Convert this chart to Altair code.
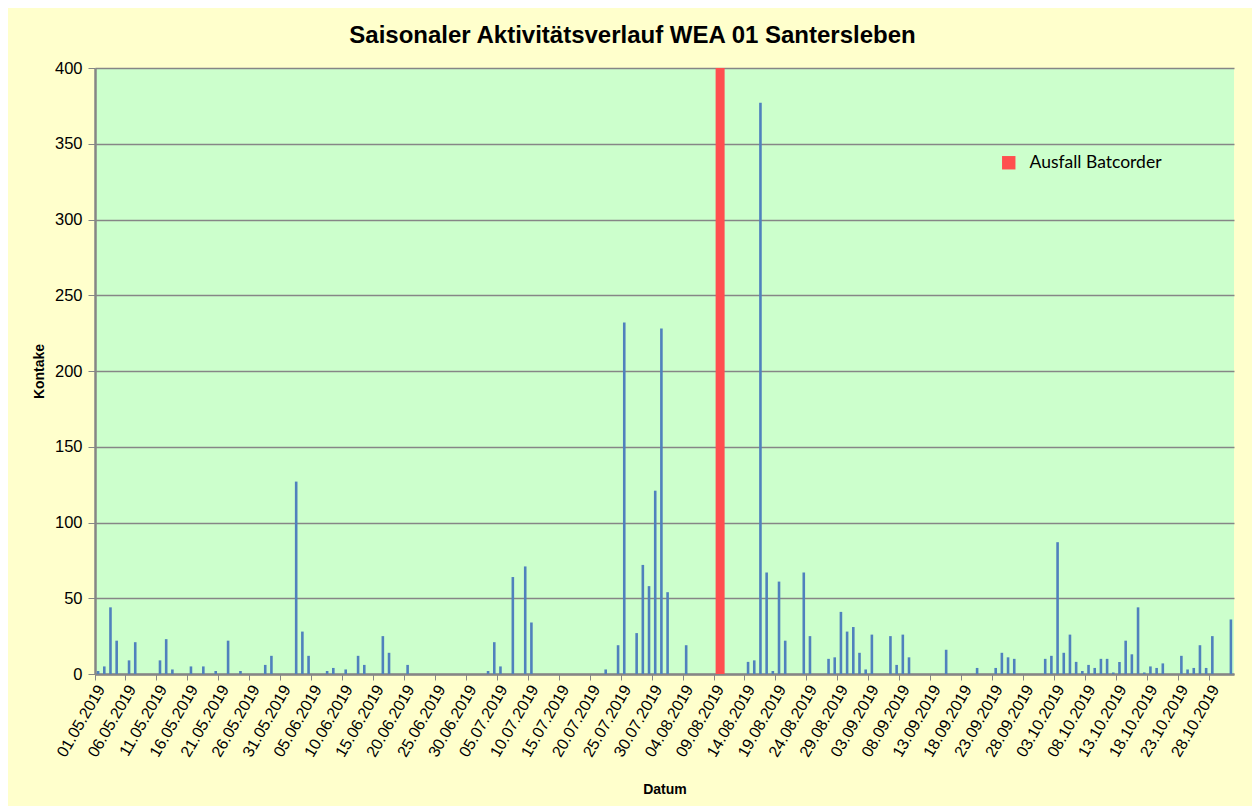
import altair as alt
import pandas as pd

# Categories: one per day, 01.05.2019 - 31.10.2019
datum = pd.date_range("2019-05-01", "2019-10-31").strftime("%d.%m.%Y").tolist()

# Kontakte per night (None = Ausfall Batcorder)
kontakte = [
    2, 5, 44, 22, 0, 9, 21, 0, 0, 0,
    9, 23, 3, 0, 0, 5, 0, 5, 0, 2,
    0, 22, 0, 2, 0, 0, 0, 6, 12, 0,
    0, 0, 127, 28, 12, 0, 0, 2, 4, 0,
    3, 0, 12, 6, 0, 0, 25, 14, 0, 0,
    6, 0, 0, 0, 0, 0, 0, 0, 0, 0,
    0, 0, 0, 2, 21, 5, 0, 64, 0, 71,
    34, 0, 0, 0, 0, 0, 0, 0, 0, 0,
    0, 0, 3, 0, 19, 232, 0, 27, 72, 58,
    121, 228, 54, 0, 0, 19, 0, 0, 0, 0,
    None, 0, 0, 0, 0, 8, 9, 377, 67, 2,
    61, 22, 0, 0, 67, 25, 0, 0, 10, 11,
    41, 28, 31, 14, 3, 26, 0, 0, 25, 6,
    26, 11, 0, 0, 0, 0, 0, 16, 0, 0,
    0, 0, 4, 0, 0, 4, 14, 11, 10, 0,
    0, 0, 0, 10, 12, 87, 14, 26, 8, 2,
    6, 4, 10, 10, 1, 8, 22, 13, 44, 1,
    5, 4, 7, 0, 0, 12, 3, 4, 19, 4,
    25, 0, 0, 36,
]

ausfall_datum = ["09.08.2019"]
ausfall_wert = [400]
ausfall_label = ["Ausfall Batcorder"]

tick_labels = datum[::5]
y_ticks = [0, 50, 100, 150, 200, 250, 300, 350, 400]

df = pd.DataFrame({"Datum": datum, "Kontakte": kontakte}).dropna()
df_red = pd.DataFrame({"Datum": ausfall_datum, "Kontakte": ausfall_wert, "Status": ausfall_label})

FONT = "Liberation Sans"

x_enc = alt.X(
    "Datum:O",
    sort=datum,
    scale=alt.Scale(domain=datum, paddingInner=0, paddingOuter=0),
    axis=alt.Axis(
        values=tick_labels,
        title="Datum",
        titleFont=FONT,
        titleFontSize=14,
        titleFontWeight="bold",
        titleColor="black",
        titlePadding=23,
        labelAngle=300,
        labelAlign="right",
        labelBaseline="middle",
        labelFont=FONT,
        labelFontSize=16,
        labelColor="black",
        labelPadding=6,
        labelOverlap=False,
        bandPosition=0,
        labelOffset=3.1,
        tickColor="#868686",
        tickSize=6,
        domainColor="#868686",
        domainWidth=2.5,
    ),
)

y_enc = alt.Y(
    "Kontakte:Q",
    scale=alt.Scale(domain=[0, 400], nice=False),
    axis=alt.Axis(
        values=y_ticks,
        title="Kontake",
        titleFont=FONT,
        titleFontSize=14,
        titleFontWeight="bold",
        titleColor="black",
        titlePadding=8,
        labelFont=FONT,
        labelFontSize=16.5,
        labelColor="black",
        labelPadding=6,
        grid=True,
        gridColor="#868686",
        gridWidth=1.5,
        tickColor="#868686",
        tickSize=7,
        domainColor="#868686",
        domainWidth=2.5,
    ),
)

bars = alt.Chart(df).mark_bar(size=2.6, color="#4F81BD").encode(x=x_enc, y=y_enc)

red = alt.Chart(df_red).mark_bar(size=9, xOffset=3).encode(
    x=x_enc,
    y=y_enc,
    color=alt.Color(
        "Status:N",
        scale=alt.Scale(domain=ausfall_label, range=["#FF4F4F"]),
        legend=alt.Legend(
            title=None,
            orient="none",
            legendX=905,
            legendY=86,
            symbolType="square",
            symbolSize=180,
            symbolStrokeWidth=0,
            labelFont="Lato",
            labelFontSize=17.5,
            labelColor="black",
            labelOffset=12,
        ),
    ),
)

chart = (
    alt.layer(bars, red)
    .properties(
        width=1139,
        height=606,
        padding={"left": 87, "top": 60, "right": 18, "bottom": 132},
        autosize=alt.AutoSizeParams(type="none"),
        background="#FFFFCC",
        title=alt.TitleParams(
            text="Saisonaler Aktivitätsverlauf WEA 01 Santersleben",
            font=FONT,
            fontSize=24,
            fontWeight="bold",
            color="black",
            anchor="middle",
            offset=12,
            dx=-32,
        ),
    )
    .configure_view(fill="#CCFFCC", stroke=None)
)

chart.save("out.html", embed_options={"renderer": "svg", "actions": False})
